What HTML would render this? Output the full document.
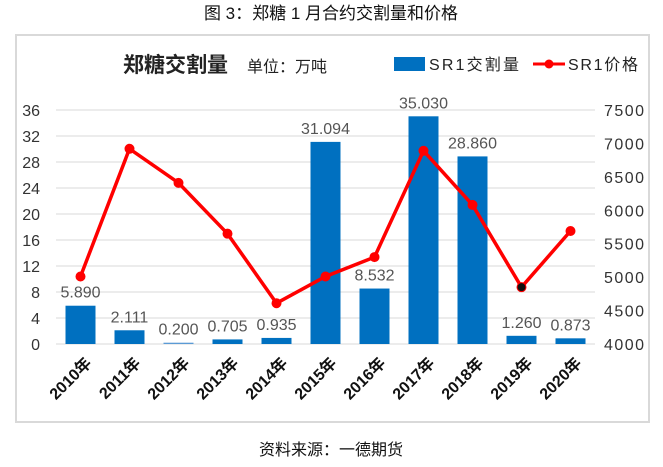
<!DOCTYPE html>
<html><head><meta charset="utf-8"><style>
body{margin:0;background:#fff;width:663px;height:462px;overflow:hidden;font-family:"Liberation Sans","Noto Sans CJK SC",sans-serif;}
</style></head><body>
<svg width="663" height="462" xmlns="http://www.w3.org/2000/svg" font-family="Liberation Sans, Noto Sans CJK SC, sans-serif">
<text x="331" y="19" text-anchor="middle" font-size="17" fill="#111">图 3：郑糖 1 月合约交割量和价格</text>
<rect x="16" y="35" width="633" height="387" fill="#fff" stroke="#d9d9d9" stroke-width="2"/>
<text x="123" y="72" font-size="21" font-weight="bold" fill="#222">郑糖交割量</text>
<text x="247" y="72" font-size="16" fill="#222">单位：万吨</text>
<g><rect x="394" y="57" width="31" height="14" fill="#0070c0"/><text x="429" y="70" font-size="16" fill="#222" textLength="90">SR1交割量</text></g>
<g><line x1="533" y1="64" x2="565" y2="64" stroke="#f00" stroke-width="3"/><circle cx="549" cy="64" r="4.5" fill="#f00"/><text x="568" y="70" font-size="16" fill="#222" textLength="70">SR1价格</text></g>
<g id="grid"></g><g id="bars"></g><g id="line"></g><g id="labels"></g>
<text x="331" y="455" text-anchor="middle" font-size="16" fill="#111">资料来源：一德期货</text>
</svg>
<script>
const years=["2010年","2011年","2012年","2013年","2014年","2015年","2016年","2017年","2018年","2019年","2020年"];
const volumes=[5.890,2.111,0.200,0.705,0.935,31.094,8.532,35.030,28.860,1.260,0.873];
const prices=[5010,6920,6410,5650,4610,5010,5300,6890,6080,4850,5690];
const leftTicks=[0,4,8,12,16,20,24,28,32,36];
const rightTicks=[4000,4500,5000,5500,6000,6500,7000,7500];
const NS="http://www.w3.org/2000/svg";
const y0=344,y1=110,x0=56,x1=595;
const yL=v=>y0-(v/36)*(y0-y1);
const yR=v=>y0-((v-4000)/3500)*(y0-y1);
const step=(x1-x0)/years.length;
const xC=i=>x0+step*(i+0.5);
function mk(tag,attrs,parent,txt){const e=document.createElementNS(NS,tag);for(const k in attrs)e.setAttribute(k,attrs[k]);if(txt!==undefined)e.textContent=txt;document.getElementById(parent).appendChild(e);return e;}
leftTicks.forEach(t=>{
 const l=mk('line',{x1:x0,x2:x1,y1:yL(t),y2:yL(t),stroke:'#d9d9d9','stroke-width':1},'grid');
 
 
 const tx=mk('text',{x:40,y:yL(t)+6,'text-anchor':'end','font-size':16,fill:'#333'},'grid',String(t));
 
 
});
rightTicks.forEach(t=>{
 const tx=mk('text',{x:604,y:yR(t)+6,'font-size':16,fill:'#333',textLength:40},'grid',String(t));
 
 
});
volumes.forEach((v,i)=>{
 const b=mk('rect',{x:xC(i)-15,y:yL(v),width:30,height:y0-yL(v),fill:i==2?'#5b9bd5':'#0070c0'},'bars');
 
 
 const t=mk('text',{x:xC(i),y:yL(v)-8,'text-anchor':'middle','font-size':16,fill:'#555'},'labels',v.toFixed(3));
 
 
 const g=mk('text',{transform:`translate(${xC(i)+12},${y0+20}) rotate(-45)`,'text-anchor':'end','font-size':16,'font-weight':'bold',fill:'#111'},'labels',years[i]);
 
 
});
const pl=mk('polyline',{points:prices.map((p,i)=>xC(i)+','+yR(p)).join(' '),fill:'none',stroke:'#f00','stroke-width':3.5},'line');


prices.forEach((p,i)=>{
 const c=mk('circle',{cx:xC(i),cy:yR(p),r:4.5,fill:i==9?'#111':'#f00',stroke:'#f00','stroke-width':1},'line');
 
 
});
</script>
</body></html>
